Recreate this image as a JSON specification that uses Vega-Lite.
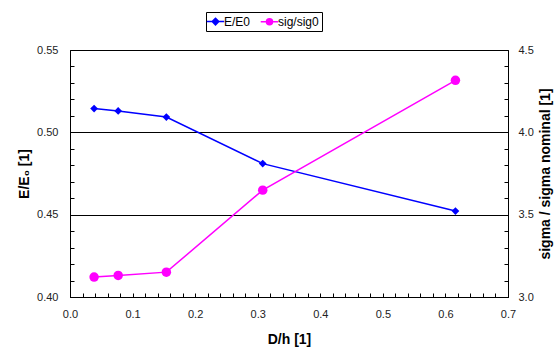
{
  "$schema": "https://vega.github.io/schema/vega-lite/v6.json",
  "autosize": {"type": "none"},
  "padding": {"left": 70, "top": 50, "right": 50, "bottom": 50},
  "width": 438,
  "height": 247,
  "config": {
    "font": "Liberation Sans",
    "view": {"stroke": "black", "strokeWidth": 1},
    "axis": {
      "labelFont": "Liberation Sans", "labelFontSize": 11, "labelColor": "#222", "labelFlush": false,
      "titleFont": "Liberation Sans", "titleFontSize": 14, "titleFontWeight": "bold", "titleColor": "black",
      "domainColor": "black", "tickColor": "black", "tickSize": -4, "gridColor": "black", "gridWidth": 1
    },
    "legend": {"labelFont": "Liberation Sans", "labelFontSize": 12, "labelColor": "black"}
  },
  "data": {"values": [
    {"D": 0.0385, "E": 0.5144, "sig": 3.121},
    {"D": 0.077, "E": 0.513, "sig": 3.131},
    {"D": 0.154, "E": 0.5093, "sig": 3.151},
    {"D": 0.308, "E": 0.481, "sig": 3.649},
    {"D": 0.616, "E": 0.4522, "sig": 4.316}
  ]},
  "transform": [{"fold": ["E", "sig"], "as": ["key0", "value"]},
    {"lookup": "key0", "from": {"data": {"values": [{"k": "E", "key": "E/E0"}, {"k": "sig", "key": "sig/sig0"}]}, "key": "k", "fields": ["key"]}}],
  "encoding": {
    "x": {"field": "D", "type": "quantitative",
      "scale": {"domain": [0, 0.7], "nice": false, "zero": false},
      "axis": {"title": "D/h [1]", "values": [0,0.02,0.04,0.06,0.08,0.1,0.12,0.14,0.16,0.18,0.2,0.22,0.24,0.26,0.28,0.3,0.32,0.34,0.36,0.38,0.4,0.42,0.44,0.46,0.48,0.5,0.52,0.54,0.56,0.58,0.6,0.62,0.64,0.66,0.68,0.7],
        "labelExpr": "abs(datum.value*10 - round(datum.value*10)) < 0.001 ? format(datum.value, '.1f') : ''",
        "grid": false, "labelPadding": 15, "titlePadding": 13}
    }
  },
  "layer": [
    {
      "transform": [{"filter": "datum.key0 == 'E'"}],
      "encoding": {
        "y": {"field": "value", "type": "quantitative",
          "scale": {"domain": [0.4, 0.55], "nice": false, "zero": false},
          "axis": {"orient": "left", "title": "E/E₀ [1]",
            "values": [0.4,0.41,0.42,0.43,0.44,0.45,0.46,0.47,0.48,0.49,0.5,0.51,0.52,0.53,0.54,0.55],
            "labelExpr": "abs(datum.value*20 - round(datum.value*20)) < 0.001 ? format(datum.value, '.2f') : ''",
            "grid": true,
            "gridOpacity": {"condition": {"test": "abs(datum.value-0.45)<0.001 || abs(datum.value-0.5)<0.001", "value": 1}, "value": 0},
            "labelPadding": 16, "titlePadding": 5}
        },
        "color": {"field": "key", "type": "nominal",
          "scale": {"domain": ["E/E0", "sig/sig0"], "range": ["#0000ff", "#ff00ff"]},
          "legend": {"title": null, "orient": "none", "legendX": 136, "legendY": -38, "direction": "horizontal",
            "strokeColor": "black", "padding": 3, "symbolStrokeWidth": 1.5, "symbolSize": 120, "columnPadding": 6, "labelOffset": 2,
            "encode": {"symbols": {"update": {"opacity": {"value": 1}}}}}
        }
      },
      "layer": [
        {"mark": {"type": "line", "strokeWidth": 1.5}},
        {"mark": {"type": "point", "shape": "diamond", "filled": true, "size": 60, "opacity": 1}},
        {"mark": {"type": "point", "filled": true, "opacity": 0},
          "encoding": {"shape": {"field": "key", "type": "nominal",
            "scale": {"domain": ["E/E0", "sig/sig0"], "range": ["M-1.6,0H1.6M0,-0.6L0.6,0L0,0.6L-0.6,0Z", "M-1.6,0H1.6M-0.55,0A0.55,0.55,0,1,1,0.55,0A0.55,0.55,0,1,1,-0.55,0Z"]},
            "legend": {"title": null, "orient": "none", "legendX": 136, "legendY": -38, "direction": "horizontal",
              "strokeColor": "black", "padding": 3, "symbolStrokeWidth": 1.5, "symbolSize": 120, "columnPadding": 6, "labelOffset": 2,
              "encode": {"symbols": {"update": {"opacity": {"value": 1}}}}}}}}
      ]
    },
    {
      "transform": [{"filter": "datum.key0 == 'sig'"}],
      "encoding": {
        "y": {"field": "value", "type": "quantitative",
          "scale": {"domain": [3.0, 4.5], "nice": false, "zero": false},
          "axis": {"orient": "right", "title": "sigma / sigma nominal [1]", "titleAngle": -90, "titleBaseline": "bottom",
            "values": [3.0,3.1,3.2,3.3,3.4,3.5,3.6,3.7,3.8,3.9,4.0,4.1,4.2,4.3,4.4,4.5],
            "labelExpr": "abs(datum.value*2 - round(datum.value*2)) < 0.001 ? format(datum.value, '.1f') : ''",
            "grid": false, "labelPadding": 14, "titlePadding": 19}
        },
        "color": {"field": "key", "type": "nominal"}
      },
      "layer": [
        {"mark": {"type": "line", "strokeWidth": 1.5}},
        {"mark": {"type": "point", "shape": "circle", "filled": true, "size": 90, "opacity": 1}}
      ]
    }
  ],
  "resolve": {"scale": {"y": "independent"}}
}
